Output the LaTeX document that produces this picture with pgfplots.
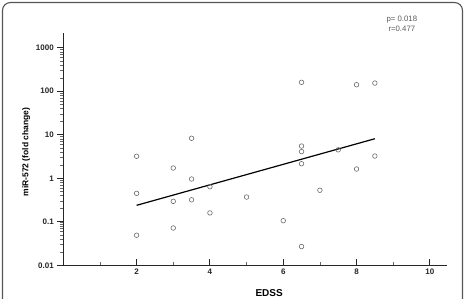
\documentclass[border=0pt]{standalone}
\usepackage{fontspec}
\setmainfont{Liberation Sans}
\usepackage{pgfplots}
\pgfplotsset{compat=1.18}
\definecolor{framegray}{HTML}{555555}
\definecolor{markgray}{HTML}{6A6A6A}
\begin{document}
\begin{tikzpicture}
\useasboundingbox (0,0) rectangle (465pt,298pt);
\draw[framegray, line width=1.1pt, rounded corners=8pt] (2.5pt,-30pt) rectangle (462.5pt,295.5pt);
\begin{axis}[
  at={(63.3pt,32.7pt)}, anchor=south west,
  scale only axis, width=383.4pt, height=232pt,
  ymode=log,
  xmin=0, xmax=10.46,
  ymin=0.01, ymax=2143,
  axis x line*=bottom, axis y line*=left,
  axis line style={line width=0.9pt, black!85},
  xtick={2,4,6,8,10}, xticklabels={2,4,6,8,10},
  minor xtick={1,3,5,7,9},
  ytick={0.01,0.1,1,10,100,1000},
  yticklabels={0.01,0.1,1,10,100,1000},
  tick label style={font=\fontsize{8}{9}\selectfont\bfseries, black!85},
  xtick align=inside,
  ytick align=outside,
  major tick length=6pt, minor tick length=3pt,
  tick style={line width=0.9pt, black!85},
  minor tick style={line width=0.5pt, black!60},
  every axis y label/.style={at={(axis description cs:-0.097,0.488)}, rotate=90, anchor=center},
  every axis x label/.style={at={(axis description cs:0.537,-0.119)}, anchor=center},
  ylabel={\fontsize{8.5}{10}\selectfont\bfseries miR-572 (fold change)},
  xlabel={\fontsize{10}{12}\selectfont\bfseries EDSS},
  clip=false,
]
\addplot[only marks, mark=o, mark size=2.3pt, markgray, mark options={line width=0.6pt}] coordinates {
(2,3.2) (2,0.45) (2,0.049) (3,1.72) (3,0.295) (3,0.072)
(3.5,8.3) (3.5,0.96) (3.5,0.32) (4,0.64) (4,0.16) (5,0.37)
(6,0.106) (6.5,160) (6.5,5.5) (6.5,4.1) (6.5,2.16) (6.5,0.027)
(7,0.53) (7.5,4.5) (8,141) (8,1.63) (8.5,154) (8.5,3.24)
};
\addplot[black, line width=1.2pt] coordinates {(2,0.239) (8.5,8.1)};
\node[align=center, font=\fontsize{7.8}{10}\selectfont, text=black!65] at (rel axis cs:0.883,1.040) {p= 0.018\\r=0.477};
\end{axis}
\end{tikzpicture}
\end{document}
